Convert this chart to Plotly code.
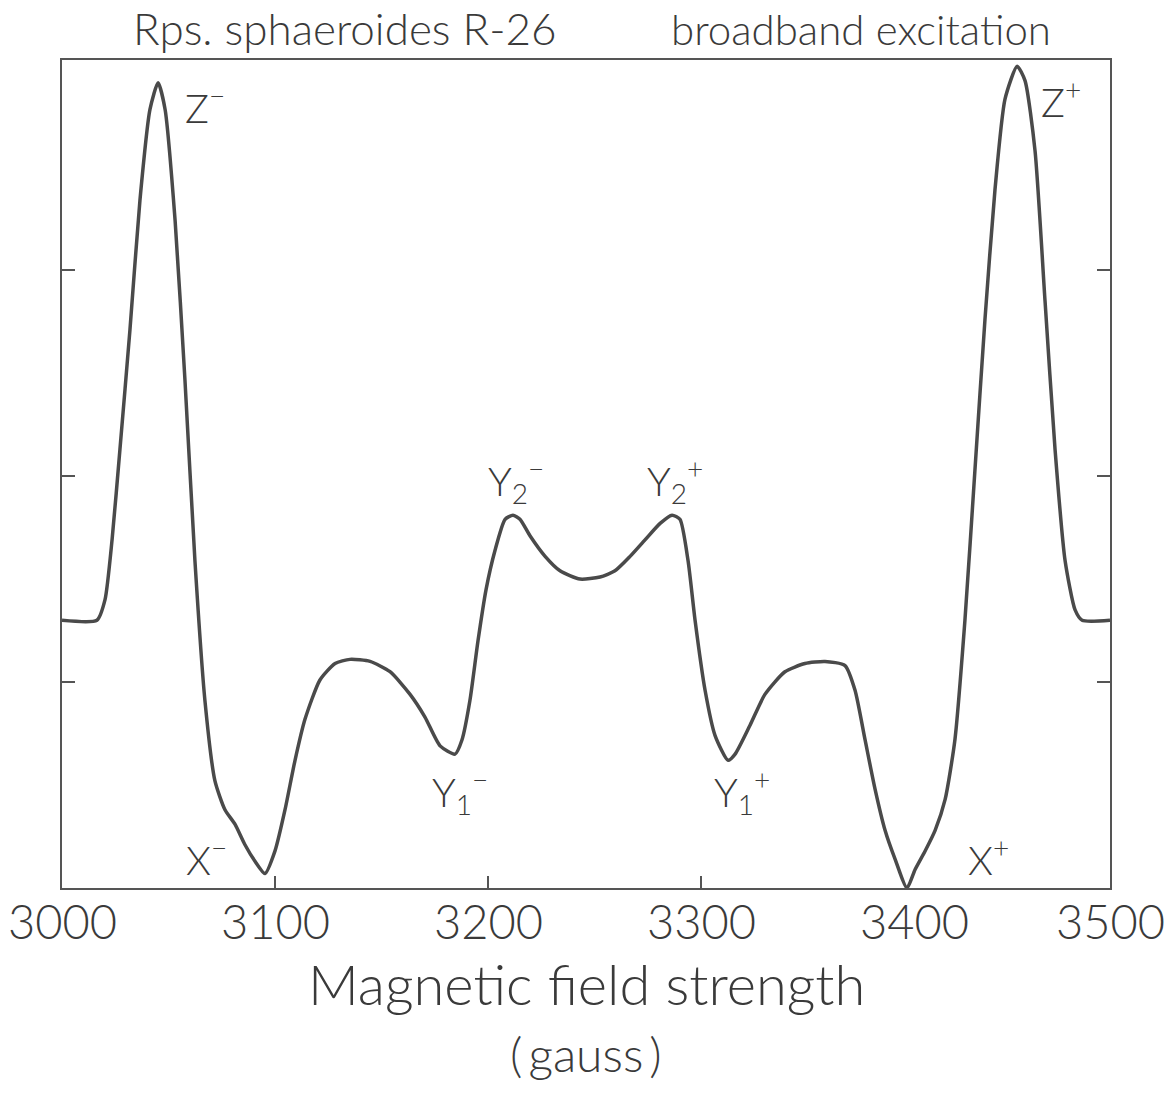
import plotly.graph_objects as go

# Magnetic field (gauss) and signal (arbitrary units)
field_gauss = [3000, 3016.4, 3020.2, 3023.5, 3027.2, 3031.9, 3036.6, 3041.3, 3045.1, 3048.4,
               3053.1, 3057.7, 3062.4, 3067.1, 3071.8, 3076.5, 3081.2, 3085.9, 3090.6, 3095.3,
               3100.0, 3104.7, 3109.4, 3114.1, 3121.1, 3128.2, 3135.2, 3144.6, 3154.0, 3163.4,
               3170.4, 3177.5, 3184.5, 3187.8, 3191.5, 3195.3, 3199.1, 3203.3, 3208.0, 3211.7,
               3215.0, 3219.7, 3226.8, 3233.8, 3243.2, 3252.6, 3259.6, 3266.7, 3273.7, 3280.8,
               3286.4, 3290.1, 3293.9, 3297.2, 3301.9, 3306.6, 3312.7, 3316.0, 3323.0, 3330.0,
               3339.4, 3348.8, 3358.2, 3367.6, 3372.3, 3377.0, 3381.7, 3386.4, 3391.1, 3396.7,
               3400.5, 3405.2, 3409.9, 3414.6, 3419.2, 3423.9, 3428.6, 3433.3, 3438.0, 3442.7,
               3448.4, 3452.1, 3456.8, 3461.5, 3466.2, 3470.9, 3475.6, 3478.9, 3492.0]
signal = [1.30, 1.30, 1.40, 1.69, 2.13, 2.71, 3.34, 3.78, 3.91, 3.78,
          3.24, 2.47, 1.59, 0.91, 0.52, 0.38, 0.31, 0.21, 0.13, 0.07,
          0.18, 0.38, 0.62, 0.82, 1.01, 1.09, 1.11, 1.10, 1.05, 0.94,
          0.83, 0.69, 0.65, 0.72, 0.91, 1.20, 1.45, 1.64, 1.79, 1.81,
          1.79, 1.71, 1.61, 1.54, 1.50, 1.51, 1.54, 1.61, 1.69, 1.77,
          1.81, 1.79, 1.59, 1.30, 0.96, 0.74, 0.62, 0.65, 0.79, 0.94,
          1.05, 1.09, 1.10, 1.08, 0.96, 0.72, 0.48, 0.28, 0.14, 0.00,
          0.09, 0.18, 0.28, 0.43, 0.72, 1.30, 2.03, 2.76, 3.39, 3.83,
          3.99, 3.92, 3.58, 2.85, 2.13, 1.59, 1.35, 1.30, 1.30]

x_tick_labels = [3000, 3100, 3200, 3300, 3400, 3500]
x_tick_marks = [3100, 3200, 3300]
y_tick_marks = [1, 2, 3]

peak_labels = ["Z<sup>−</sup>", "X<sup>−</sup>", "Y<sub>1</sub><sup>−</sup>", "Y<sub>2</sub><sup>−</sup>",
               "Y<sub>2</sub><sup>+</sup>", "Y<sub>1</sub><sup>+</sup>", "X<sup>+</sup>", "Z<sup>+</sup>"]
peak_label_x = [3067, 3068, 3187, 3213, 3288, 3319, 3435, 3469]
peak_label_y = [3.80, 0.15, 0.47, 1.98, 1.98, 0.47, 0.15, 3.83]

X_MIN, X_MAX = 3000, 3492
Y_MIN, Y_MAX = 0, 4.02

FONT = "Lato"
INK = "#3a3a3a"

fig = go.Figure()
fig.add_trace(go.Scatter(x=field_gauss, y=signal, mode="lines",
                         line=dict(color="#4a4a4a", width=3.5, shape="spline", smoothing=0.6),
                         hoverinfo="skip", showlegend=False))

for t, x, y in zip(peak_labels, peak_label_x, peak_label_y):
    fig.add_annotation(x=x, y=y, xref="x", yref="y", text=t, showarrow=False,
                       xanchor="center", yanchor="middle",
                       font=dict(family=FONT, size=40, color=INK, weight=300))

for v in x_tick_labels:
    fig.add_annotation(x=min(v, X_MAX), y=0, xref="x", yref="paper", yanchor="top",
                       xanchor="center", yshift=-3, text=str(v), showarrow=False,
                       font=dict(family=FONT, size=47, color=INK, weight=300))

fig.add_annotation(x=0.5, y=0, xref="paper", yref="paper", yanchor="top", xanchor="center",
                   yshift=-60, text="Magnetic field strength", showarrow=False,
                   font=dict(family=FONT, size=56, color=INK, weight=300))
fig.add_annotation(x=0.5, y=0, xref="paper", yref="paper", yanchor="top", xanchor="center",
                   yshift=-135, text="(\u2009gauss\u2009)", showarrow=False,
                   font=dict(family=FONT, size=48, color=INK, weight=300))
fig.add_annotation(x=0.27, y=1, xref="paper", yref="paper", yanchor="bottom", xanchor="center",
                   yshift=4, text="Rps. sphaeroides R-26", showarrow=False,
                   font=dict(family=FONT, size=44, color=INK, weight=300))
fig.add_annotation(x=0.762, y=1, xref="paper", yref="paper", yanchor="bottom", xanchor="center",
                   yshift=4, text="broadband excitation", showarrow=False,
                   font=dict(family=FONT, size=42, color=INK, weight=300))

fig.update_layout(
    width=1174, height=1095,
    margin=dict(l=62, r=64, t=60, b=207),
    paper_bgcolor="white", plot_bgcolor="white",
    xaxis=dict(range=[X_MIN, X_MAX], tickvals=x_tick_marks, ticks="inside", ticklen=12,
               tickwidth=2, tickcolor="#555", showticklabels=False, showgrid=False,
               zeroline=False, showline=True, linecolor="#555", linewidth=2, mirror=True),
    yaxis=dict(range=[Y_MIN, Y_MAX], tickvals=y_tick_marks, ticks="inside", ticklen=13,
               tickwidth=2, tickcolor="#555", showticklabels=False, showgrid=False,
               zeroline=False, showline=True, linecolor="#555", linewidth=2, mirror="ticks"),
)

fig.write_html("out.html")
